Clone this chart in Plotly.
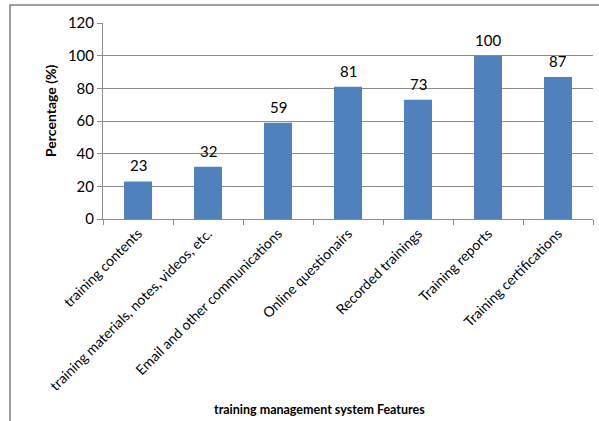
import plotly.graph_objects as go

categories = ["training contents", "training materials, notes, videos, etc.",
              "Email and other communications", "Online questionairs",
              "Recorded trainings", "Training reports", "Training certifications"]
values = [23, 32, 59, 81, 73, 100, 87]
y_ticks = [0, 20, 40, 60, 80, 100, 120]

FONT = "Lato, 'Open Sans', sans-serif"
W, H = 599, 421
L, R, T, B = 103, 6, 23, 202
pw, ph = W - L - R, H - T - B


def px(x):
    return (x - L) / pw


def py(y):
    return (H - B - y) / ph


fig = go.Figure(go.Bar(
    x=categories, y=values, width=0.4,
    marker=dict(color="#4f81bd", line=dict(width=0)),
    cliponaxis=False,
))

# Data labels above each bar
for c, v in zip(categories, values):
    fig.add_annotation(x=c, y=v, text=str(v), showarrow=False,
                       yanchor="bottom", yshift=5,
                       font=dict(size=15, color="#000000", family=FONT))

fig.update_layout(
    width=W, height=H,
    margin=dict(l=L, r=R, t=T, b=B, autoexpand=False),
    paper_bgcolor="white", plot_bgcolor="white",
    showlegend=False,
    font=dict(family=FONT, color="#000000"),
    bargap=0.6,
)
fig.update_xaxes(
    type="category", tickangle=-45, tickfont=dict(size=14, family=FONT),
    showgrid=False, showline=True, linecolor="#8c8c8c", linewidth=1,
    ticks="outside", tickson="boundaries", ticklen=5, tickcolor="#8c8c8c",
    automargin=False,
)
fig.update_yaxes(
    range=[0, 120], tickvals=y_ticks, tickfont=dict(size=15, family=FONT),
    showgrid=True, gridcolor="#8c8c8c", gridwidth=1,
    showline=True, linecolor="#8c8c8c", linewidth=1,
    ticks="outside", ticklen=5, tickcolor="#8c8c8c", zeroline=False,
    automargin=False,
)

# Axis titles
fig.add_annotation(text="<b>Percentage (%)</b>", textangle=-90,
                   xref="paper", yref="paper", x=px(50), y=py(111),
                   showarrow=False, font=dict(size=14, family=FONT),
                   xanchor="center", yanchor="middle")
fig.add_annotation(text="<b>training management system Features</b>",
                   xref="paper", yref="paper", x=px(319), y=py(409),
                   showarrow=False, font=dict(size=12.5, family=FONT),
                   xanchor="center", yanchor="middle")

# Outer frame (only top and left edges fall inside the picture)
fig.add_shape(type="rect", xref="paper", yref="paper",
              x0=px(10), x1=px(W + 20), y0=py(5), y1=py(H + 20),
              line=dict(color="#7f7f7f", width=1.5), fillcolor="rgba(0,0,0,0)",
              layer="above")

fig.write_html("out.html", config={"displayModeBar": False},
               post_script="document.body.style.margin='0';")
